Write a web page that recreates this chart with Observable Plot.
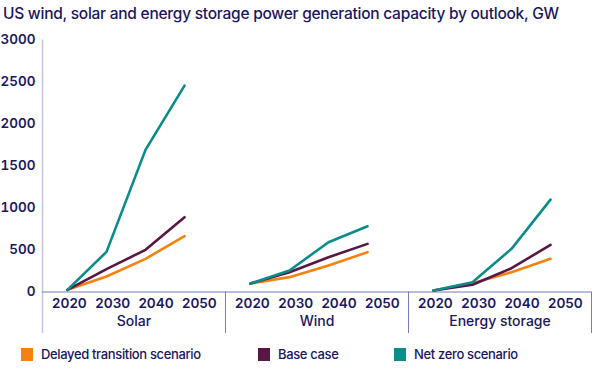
<!DOCTYPE html>
<html>
<head>
<meta charset="utf-8">
<script src="https://cdn.jsdelivr.net/npm/d3@7"></script>
<script src="https://cdn.jsdelivr.net/npm/@observablehq/plot@0.6"></script>
<style>
  html, body { margin: 0; padding: 0; background: #fff; }
  body { width: 600px; height: 370px; overflow: hidden; font-family: Inter, "Noto Sans", sans-serif; color: #1a1760; }
  #title { height: 30px; line-height: 28px; font-size: 15.5px; font-weight: 500; padding-left: 3px; white-space: nowrap; letter-spacing: -0.25px; color: #1a1760; }
  #chart svg { display: block; }
  #legend { position: relative; height: 24px; font-size: 13px; font-weight: 500; letter-spacing: -0.35px; color: #1a1760; }
  .item { position: absolute; top: 0; height: 24px; display: flex; align-items: center; white-space: nowrap; }
  .sw { width: 12px; height: 13px; margin-right: 8px; }
</style>
</head>
<body>
<div id="title">US wind, solar and energy storage power generation capacity by outlook, GW</div>
<div id="chart"></div>
<div id="legend"></div>
<script>
// ---- data ----
const groups = ["Solar", "Wind", "Energy storage"];
const years = ["2020", "2030", "2040", "2050"];
const scenarios = ["Delayed transition scenario", "Base case", "Net zero scenario"];
const colors = ["#f5820f", "#581845", "#0b8c8c"];
const yTicks = [0, 500, 1000, 1500, 2000, 2500, 3000];

const solarDelayed   = [26, 184, 395, 664];
const solarBase      = [26, 272, 502, 890];
const solarNetZero   = [26, 478, 1692, 2457];
const windDelayed    = [101, 177, 315, 474];
const windBase       = [101, 236, 414, 573];
const windNetZero    = [101, 256, 593, 783];
const storageDelayed = [18, 105, 236, 395];
const storageBase    = [18, 86, 283, 561];
const storageNetZero = [18, 117, 514, 1100];

const seriesByGroup = {
  "Solar": [solarDelayed, solarBase, solarNetZero],
  "Wind": [windDelayed, windBase, windNetZero],
  "Energy storage": [storageDelayed, storageBase, storageNetZero]
};

// ---- build table ----
const rows = [];
for (const g of groups) {
  seriesByGroup[g].forEach((vals, s) => {
    vals.forEach((v, i) => rows.push({group: g, scenario: scenarios[s], i, year: years[i], value: v}));
  });
}
const yearLabels = [];
for (const g of groups) years.forEach((y, i) => yearLabels.push({group: g, i, year: y}));

// ---- layout / style constants ----
const navy = "#1a1760";
const axisColor = "#7b7bbb";
const yAxisColor = "#c3c3e3";
const xDomain = [-0.64, 4.05];
const labelSpread = 1.11, labelShift = 0.05;
const below = 41.5;

const chart = Plot.plot({
  width: 600,
  height: 312,
  marginTop: 9.5,
  marginBottom: 50.5,
  marginLeft: 42,
  marginRight: 9,
  style: {fontFamily: "Inter, 'Noto Sans', sans-serif", fontSize: "13.5px", fontWeight: 600, color: navy, background: "#fff"},
  fx: {domain: groups, padding: 0, axis: null},
  x: {domain: xDomain, axis: null},
  y: {domain: [0, 3000], ticks: yTicks, tickSize: 0, tickPadding: 7, label: null, tickFormat: d => String(d)},
  color: {domain: scenarios, range: colors},
  marks: [
    Plot.ruleX(groups.slice(0, 1), {fx: d => d, x: () => xDomain[0], y1: () => 3000, y2: () => 0, insetBottom: -below, stroke: yAxisColor, strokeWidth: 1.5}),
    Plot.ruleX(groups, {fx: d => d, x: () => xDomain[1], y1: () => 0, y2: () => 0, insetBottom: -below, stroke: axisColor, strokeWidth: 1}),
    Plot.ruleY([0], {stroke: axisColor, strokeWidth: 1.2}),
    Plot.line(rows, {fx: "group", x: "i", y: "value", z: "scenario", stroke: "scenario", strokeWidth: 2.6, strokeLinejoin: "round"}),
    Plot.text(yearLabels, {fx: "group", x: d => d.i * labelSpread + labelShift, text: "year", frameAnchor: "bottom", dy: 16, fill: navy, fontSize: 13.5, fontWeight: 600}),
    Plot.text(groups, {fx: d => d, text: d => d, frameAnchor: "bottom", dy: 33.5, fill: navy, fontSize: 14, fontWeight: 500})
  ]
});
chart.querySelectorAll("g[aria-label='y-axis tick label']").forEach(el => {
  el.setAttribute("fill", navy);
  el.setAttribute("font-size", "13.5");
});
document.getElementById("chart").appendChild(chart);

// ---- legend ----
const legendX = [21, 258, 394];
const legend = document.getElementById("legend");
scenarios.forEach((s, k) => {
  const item = document.createElement("div");
  item.className = "item";
  item.style.left = legendX[k] + "px";
  const sw = document.createElement("span");
  sw.className = "sw";
  sw.style.background = colors[k];
  const t = document.createElement("span");
  t.textContent = s;
  item.appendChild(sw);
  item.appendChild(t);
  legend.appendChild(item);
});
</script>
</body>
</html>
